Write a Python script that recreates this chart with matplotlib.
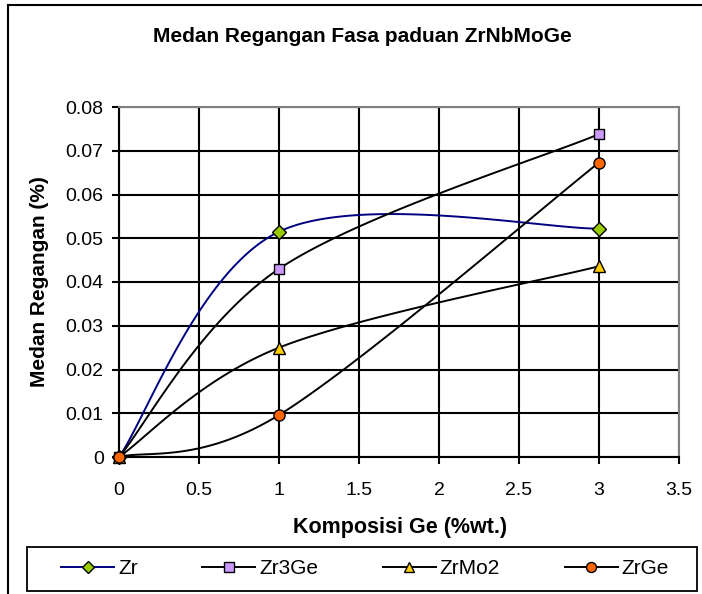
import numpy as np
import matplotlib
matplotlib.use("Agg")
import matplotlib.pyplot as plt
from matplotlib.lines import Line2D
from matplotlib.patches import Rectangle

plt.rcParams['font.family'] = ['Liberation Sans', 'DejaVu Sans']

x_ge = [0, 1, 3]
series_names = ['Zr', 'Zr3Ge', 'ZrMo2', 'ZrGe']
zr = [0.0, 0.0515, 0.0522]
zr3ge = [0.0, 0.0430, 0.0738]
zrmo2 = [0.0, 0.0250, 0.0436]
zrge = [0.0, 0.0096, 0.0673]
x_ticks = [0, 0.5, 1, 1.5, 2, 2.5, 3, 3.5]
x_tick_labels = ['0', '0.5', '1', '1.5', '2', '2.5', '3', '3.5']
y_ticks = [0, 0.01, 0.02, 0.03, 0.04, 0.05, 0.06, 0.07, 0.08]
y_tick_labels = ['0', '0.01', '0.02', '0.03', '0.04', '0.05', '0.06', '0.07', '0.08']

styles = [
    dict(color='#000080', marker='D', mfc='#99CC00', ms=7),
    dict(color='black', marker='s', mfc='#CC99FF', ms=7.5),
    dict(color='black', marker='^', mfc='#FFCC00', ms=8.5),
    dict(color='black', marker='o', mfc='#FF6600', ms=8),
]


def smooth(xs, ys, n=60):
    """Excel-style smoothed line (Catmull-Rom Bezier)."""
    P = np.column_stack([xs, ys]).astype(float)
    out = []
    m = len(P)
    for i in range(m - 1):
        p0 = P[i - 1] if i > 0 else P[i]
        p1 = P[i]
        p2 = P[i + 1]
        p3 = P[i + 2] if i + 2 < m else P[i + 1]
        c1 = p1 + (p2 - p0) / 6.0
        c2 = p2 - (p3 - p1) / 6.0
        t = np.linspace(0, 1, n)[:, None]
        seg = ((1 - t) ** 3) * p1 + 3 * ((1 - t) ** 2) * t * c1 + 3 * (1 - t) * t ** 2 * c2 + t ** 3 * p2
        out.append(seg if i == 0 else seg[1:])
    S = np.vstack(out)
    return S[:, 0], S[:, 1]


W, H = 702, 594
fig = plt.figure(figsize=(W / 100, H / 100), dpi=100)
ax = fig.add_axes([119 / W, 1 - 457 / H, (679 - 119) / W, (457 - 107) / H])

data = [zr, zr3ge, zrmo2, zrge]
handles = []
for name, ys, st in zip(series_names, data, styles):
    sx, sy = smooth(x_ge, ys)
    ax.plot(sx, sy, color=st['color'], lw=1.4, zorder=3, clip_on=False)
    ax.plot(x_ge, ys, ls='none', marker=st['marker'], mfc=st['mfc'], mec='black',
            mew=1.0, ms=st['ms'], zorder=4, clip_on=False)
    handles.append(Line2D([], [], color=st['color'], lw=1.4, marker=st['marker'],
                          mfc=st['mfc'], mec='black', mew=1.0, ms=st['ms'] * 0.9))

ax.set_xlim(0, 3.5)
ax.set_ylim(0, 0.08)
ax.set_xticks(x_ticks)
ax.set_xticklabels(x_tick_labels)
ax.set_yticks(y_ticks)
ax.set_yticklabels(y_tick_labels)
ax.grid(True, color='black', lw=1.5, zorder=1)
ax.set_axisbelow(True)
ax.tick_params(axis='both', labelsize=14, length=5, width=1.5, color='black', direction='out')
ax.tick_params(axis='x', pad=13)
ax.tick_params(axis='y', pad=6)
for side in ['left', 'bottom']:
    ax.spines[side].set_color('black')
    ax.spines[side].set_linewidth(1.5)
for side in ['top', 'right']:
    ax.spines[side].set_color('#808080')
    ax.spines[side].set_linewidth(1.5)

fig.text(362 / W, 1 - 36 / H, 'Medan Regangan Fasa paduan ZrNbMoGe', ha='center', va='center',
         fontsize=15, fontweight='bold')
fig.text(400 / W, 1 - 527 / H, 'Komposisi Ge (%wt.)', ha='center', va='center',
         fontsize=15.5, fontweight='bold')
fig.text(40 / W, 1 - 282 / H, 'Medan Regangan (%)', ha='center', va='center',
         fontsize=15, fontweight='bold', rotation=90)

fs_leg = 15
fs_px = fs_leg * 100 / 72
leg = fig.legend(handles, series_names, loc='center left',
                 bbox_to_anchor=(61 / W, 1 - 569 / H, (669 - 61) / W, 0.0),
                 mode='expand', ncol=4, fontsize=fs_leg, frameon=False,
                 handlelength=53 / fs_px, handletextpad=4 / fs_px,
                 borderpad=0, borderaxespad=0)
fig.add_artist(Rectangle((27 / W, 1 - 591 / H), (697 - 27) / W, 44 / H, transform=fig.transFigure,
                         fill=False, edgecolor='black', lw=1.3))

# outer chart border (left and top visible)
fig.add_artist(Line2D([8 / W, 8 / W], [0, 1 - 5 / H], transform=fig.transFigure, color='black', lw=1.5))
fig.add_artist(Line2D([8 / W, 1], [1 - 5 / H, 1 - 5 / H], transform=fig.transFigure, color='black', lw=1.5))

fig.savefig('out.png', dpi=100)
